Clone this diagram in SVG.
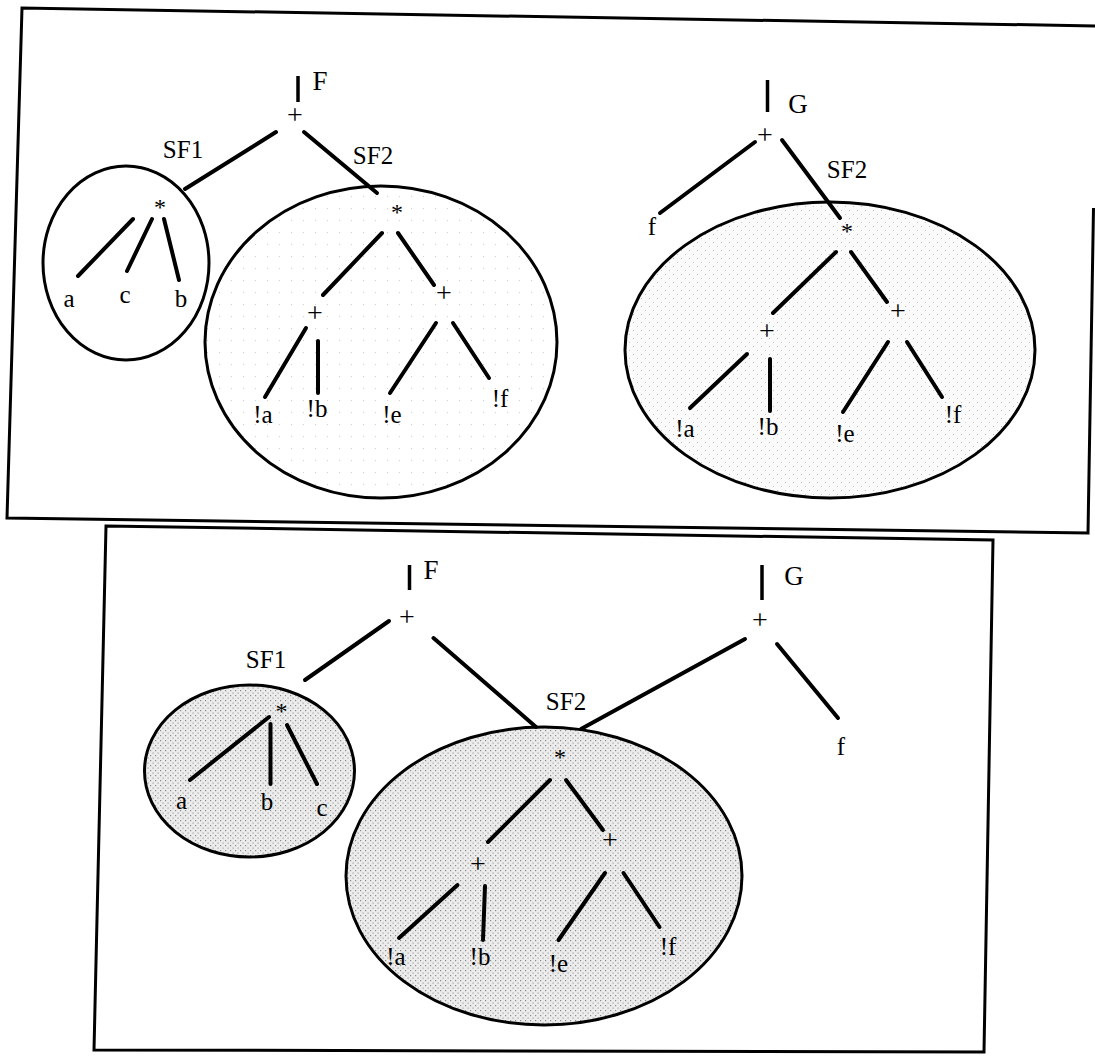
<svg xmlns="http://www.w3.org/2000/svg" width="1095" height="1057" viewBox="0 0 1095 1057">
<defs>
<pattern id="stipDark" width="5" height="5" patternUnits="userSpaceOnUse">
<rect width="5" height="5" fill="#ececec"/>
<rect x="0" y="0" width="1.2" height="1.2" fill="#8a8a8a"/>
<rect x="2.5" y="2.5" width="1.2" height="1.2" fill="#a0a0a0"/>
</pattern>
<pattern id="stipLight" width="8" height="8" patternUnits="userSpaceOnUse">
<rect width="8" height="8" fill="#fbfbfb"/>
<rect x="1" y="2" width="1" height="1" fill="#b8b8b8"/>
<rect x="5" y="6" width="1" height="1" fill="#c8c8c8"/>
</pattern>
<pattern id="stipFaint" width="12" height="12" patternUnits="userSpaceOnUse">
<rect width="12" height="12" fill="#ffffff"/>
<rect x="3" y="4" width="1" height="1" fill="#cfcfcf"/>
</pattern>
</defs>
<style>
.frame{fill:none;stroke:#000;stroke-width:3;stroke-linejoin:miter}
.ell{stroke:#000;stroke-width:3}
.edge{stroke:#000;stroke-width:4;stroke-linecap:round;fill:none}
.bar{stroke:#000;stroke-width:3.5;stroke-linecap:butt}
text{font-family:"Liberation Serif","Times New Roman",serif;font-size:25px;fill:#000;text-anchor:middle}
.op{font-size:24px}
.plus{font-size:28px}
.root{font-size:27px}
</style>
<rect width="1095" height="1057" fill="#ffffff"/>

<g id="frames">
<polyline class="frame" points="1100,26 22,8 7,518 1088,533 1093.5,208"/>
<polygon class="frame" points="106,526 993,540 984,1052 94,1050"/>
</g>

<g id="subtrees">
<g id="top-sf1-region"><ellipse class="ell" cx="126" cy="263" rx="83" ry="97" fill="#ffffff"/></g>
<g id="top-sf2-region-F"><ellipse class="ell" cx="381" cy="342" rx="176" ry="156" fill="url(#stipFaint)"/></g>
<g id="top-sf2-region-G"><ellipse class="ell" cx="830" cy="350" rx="205" ry="148" fill="url(#stipLight)"/></g>
<g id="bot-sf1-region"><ellipse class="ell" cx="249.5" cy="771" rx="105" ry="86" fill="url(#stipDark)"/></g>
<g id="bot-sf2-region"><ellipse class="ell" cx="544" cy="876" rx="198" ry="149" fill="url(#stipDark)"/></g>
</g>

<g id="connectors">
<!-- top F tree -->
<line class="bar" x1="298" y1="76" x2="298" y2="102"/>
<line class="edge" x1="276" y1="132" x2="185" y2="189"/>
<line class="edge" x1="304" y1="132" x2="377" y2="193"/>
<line class="edge" x1="133" y1="219" x2="78" y2="276"/>
<line class="edge" x1="152" y1="219" x2="127" y2="271"/>
<line class="edge" x1="164" y1="219" x2="179" y2="280"/>
<line class="edge" x1="382" y1="233" x2="323" y2="295"/>
<line class="edge" x1="398" y1="233" x2="434" y2="285"/>
<line class="edge" x1="306" y1="328" x2="265" y2="397"/>
<line class="edge" x1="318" y1="341" x2="318" y2="393"/>
<line class="edge" x1="436" y1="323" x2="390" y2="393"/>
<line class="edge" x1="453" y1="323" x2="489" y2="378"/>
<!-- top G tree -->
<line class="bar" x1="767.5" y1="80" x2="767.5" y2="112"/>
<line class="edge" x1="755" y1="142" x2="660" y2="213"/>
<line class="edge" x1="782" y1="140" x2="840" y2="218"/>
<line class="edge" x1="836" y1="252" x2="773" y2="313"/>
<line class="edge" x1="851" y1="252" x2="887" y2="302"/>
<line class="edge" x1="747" y1="354" x2="690" y2="408"/>
<line class="edge" x1="770" y1="359" x2="770" y2="411"/>
<line class="edge" x1="888" y1="342" x2="843" y2="412"/>
<line class="edge" x1="907" y1="342" x2="942" y2="397"/>
<!-- bottom shared tree -->
<line class="bar" x1="409.5" y1="565" x2="409.5" y2="590"/>
<line class="edge" x1="389" y1="621" x2="305" y2="680"/>
<line class="edge" x1="433.5" y1="638" x2="536" y2="727"/>
<line class="edge" x1="269" y1="717" x2="190" y2="780"/>
<line class="edge" x1="270.5" y1="724" x2="270.5" y2="784"/>
<line class="edge" x1="287" y1="725" x2="317" y2="784"/>
<line class="edge" x1="550" y1="780" x2="488" y2="842"/>
<line class="edge" x1="566" y1="780" x2="603" y2="830"/>
<line class="edge" x1="457.5" y1="885" x2="399" y2="938"/>
<line class="edge" x1="485" y1="886" x2="483" y2="940"/>
<line class="edge" x1="605" y1="873" x2="558.5" y2="940"/>
<line class="edge" x1="623.5" y1="873" x2="659.5" y2="927"/>
<line class="bar" x1="762" y1="565" x2="762" y2="600"/>
<line class="edge" x1="745" y1="639" x2="581" y2="729"/>
<line class="edge" x1="777" y1="644" x2="838" y2="718"/>
</g>

<g id="top-F-tree">
<g id="t-F"><text class="root" x="320" y="90">F</text></g>
<g id="t-F-plus"><text class="plus" x="295" y="124">+</text></g>
<g id="t-SF1-label"><text x="183" y="158">SF1</text></g>
<g id="t-SF1-star"><text class="op" x="160" y="215">*</text></g>
<g id="t-a"><text x="69" y="307">a</text></g>
<g id="t-c"><text x="125" y="303">c</text></g>
<g id="t-b"><text x="181" y="307">b</text></g>
<g id="t-SF2-label"><text x="373" y="164">SF2</text></g>
<g id="t-SF2-star"><text class="op" x="397" y="220">*</text></g>
<g id="t-SF2-plusL"><text class="plus" x="315" y="322">+</text></g>
<g id="t-SF2-plusR"><text class="plus" x="444" y="302">+</text></g>
<g id="t-na"><text x="263" y="423">!a</text></g>
<g id="t-nb"><text x="317" y="417">!b</text></g>
<g id="t-ne"><text x="392" y="423">!e</text></g>
<g id="t-nf"><text x="500" y="407">!f</text></g>
</g>

<g id="top-G-tree">
<g id="g-G"><text class="root" x="798" y="113">G</text></g>
<g id="g-plus"><text class="plus" x="765" y="144">+</text></g>
<g id="g-f"><text x="652" y="235">f</text></g>
<g id="g-SF2-label"><text x="847" y="178">SF2</text></g>
<g id="g-SF2-star"><text class="op" x="847" y="239">*</text></g>
<g id="g-plusL"><text class="plus" x="767" y="340">+</text></g>
<g id="g-plusR"><text class="plus" x="898" y="320">+</text></g>
<g id="g-na"><text x="685" y="437">!a</text></g>
<g id="g-nb"><text x="768" y="435">!b</text></g>
<g id="g-ne"><text x="845" y="442">!e</text></g>
<g id="g-nf"><text x="953" y="423">!f</text></g>
</g>

<g id="bottom-tree">
<g id="b-F"><text class="root" x="431" y="579">F</text></g>
<g id="b-F-plus"><text class="plus" x="407" y="626">+</text></g>
<g id="b-SF1-label"><text x="266" y="668">SF1</text></g>
<g id="b-SF1-star"><text class="op" x="281.5" y="719">*</text></g>
<g id="b-a"><text x="181.5" y="809">a</text></g>
<g id="b-b"><text x="267" y="810">b</text></g>
<g id="b-c"><text x="322" y="816">c</text></g>
<g id="b-SF2-label"><text x="566" y="710">SF2</text></g>
<g id="b-SF2-star"><text class="op" x="560" y="765">*</text></g>
<g id="b-plusL"><text class="plus" x="478" y="873">+</text></g>
<g id="b-plusR"><text class="plus" x="610" y="849">+</text></g>
<g id="b-na"><text x="396" y="965">!a</text></g>
<g id="b-nb"><text x="480" y="965">!b</text></g>
<g id="b-ne"><text x="558.5" y="972">!e</text></g>
<g id="b-nf"><text x="668" y="955">!f</text></g>
<g id="b-G"><text class="root" x="794" y="585">G</text></g>
<g id="b-G-plus"><text class="plus" x="760" y="629">+</text></g>
<g id="b-f"><text x="841" y="755">f</text></g>
</g>
</svg>
